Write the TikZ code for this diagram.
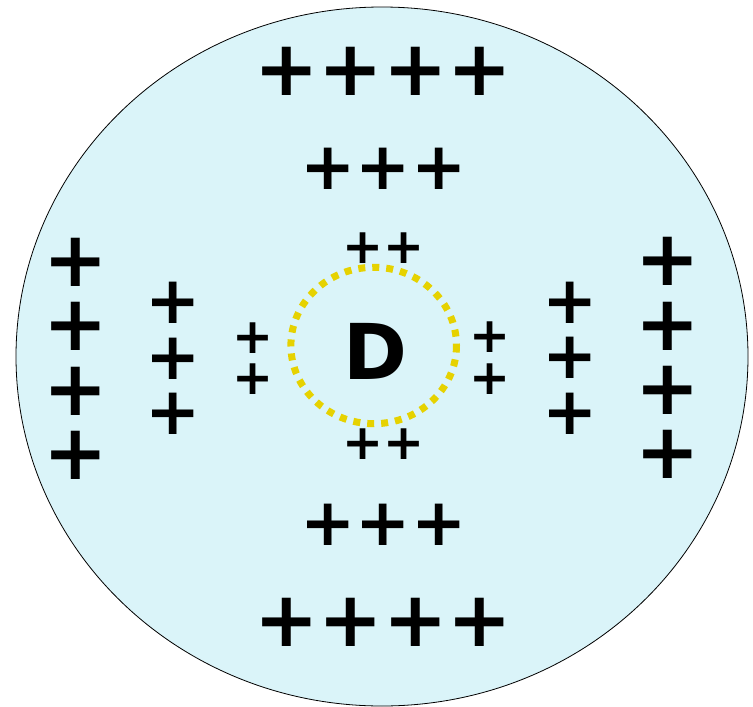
\documentclass[tikz,border=0pt]{standalone}
\usepackage{fontspec}
\usetikzlibrary{positioning}
\newfontfamily\plusfont{DejaVu Sans}[BoldFont={DejaVu Sans Bold}]
\definecolor{DiskCyan}{RGB}{218,244,249}
\definecolor{CoreYellow}{RGB}{230,210,0}

\begin{document}
\begin{tikzpicture}[x=1pt,y=-1pt,
bigplus/.style={inner sep=0pt,align=center,font={\plusfont\bfseries\fontsize{77}{64.4}\selectfont}},
midplus/.style={inner sep=0pt,align=center,font={\plusfont\bfseries\fontsize{66}{55.5}\selectfont}},
smallplus/.style={inner sep=0pt,align=center,font={\plusfont\bfseries\fontsize{49}{41.3}\selectfont}},
core/.style={draw=CoreYellow,line width=7pt,dash pattern=on 7pt off 7pt}
]
\useasboundingbox (0,0) rectangle (753,707);
% charged disk
\draw[fill=DiskCyan,draw=black,line width=0.8pt] (382,356.5) ellipse [x radius=366,y radius=349.5];
% rows above and below
\node[bigplus] (topfour) at (383.3,71) {++++};
\node[midplus] (topthree) at (383.5,169) {+++};
\node[smallplus] (toptwo) at (383.3,248) {++};
\node[smallplus] (bottwo) at (383.3,444) {++};
\node[midplus] (botthree) at (383.5,524.7) {+++};
\node[bigplus] (botfour) at (383.3,622.3) {++++};
% columns left and right
\node[bigplus] (leftfour) at (75.7,358.7) {+\\+\\+\\+};
\node[midplus] (leftthree) at (173.3,358.8) {+\\+\\+};
\node[smallplus] (lefttwo) at (252.7,358.3) {+\\+};
\node[smallplus] (righttwo) at (490,358) {+\\+};
\node[midplus] (rightthree) at (569.7,358.2) {+\\+\\+};
\node[bigplus] (rightfour) at (667.3,358.2) {+\\+\\+\\+};
% centre
\draw[core] (373.7,345.5) ellipse [x radius=82.8,y radius=78.2];
\node[bigplus] (dlabel) at (375,351.7) {D};
\end{tikzpicture}
\end{document}
